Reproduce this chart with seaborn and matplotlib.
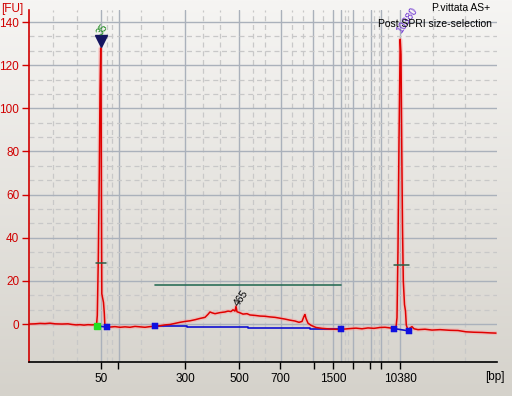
import numpy as np
import pandas as pd
import matplotlib
matplotlib.use('Agg')
import matplotlib.pyplot as plt
from matplotlib.colors import LinearSegmentedColormap
import seaborn as sns

# electropherogram trace: migration position (x) vs fluorescence [FU]
trace_pos = [29, 35, 40, 45, 50, 55, 62, 68, 72, 76, 80, 84, 88, 92, 95, 96.5,
             97.3, 98.3, 99.3, 100, 100.7, 101.1, 101.4, 101.8, 103.5, 104.3, 104.8, 106,
             110, 115, 120, 125, 130, 135, 140, 145, 150, 155,
             160, 165, 170, 175, 180, 185, 190, 195, 200, 205, 208, 210, 212, 215, 220,
             225, 228, 231, 233, 235, 236, 237, 240, 243, 247, 250, 255, 260, 265, 270,
             275, 280, 285, 290, 295, 299, 302, 304, 305, 306, 308, 311, 316, 322, 330, 339,
             345, 350, 356, 362, 368, 374, 380, 385, 390, 394, 396,
             397, 398, 399, 400.2, 401, 401.8, 402.5, 403.3, 404.5, 405.5, 406.3, 408,
             410, 412, 414, 418, 425, 432, 440, 450, 458, 466, 474, 482, 490, 496]
trace_fu = [0.0, 0.1, 0.3, 0.2, 0.4, 0.1, 0.0, 0.1, -0.2, -0.4, -0.3, -0.5, -0.3, -0.4, -0.3, -0.6,
            4, 30, 70, 108, 128, 110, 60, 14, 10, 5, 0, -1.3,
            -1.4, -1.2, -1.5, -1.3, -1.5, -1.1, -1.3, -1.5, -1.2, -1.0,
            -0.8, -0.4, -0.2, 0.3, 0.8, 1.2, 1.5, 2.0, 2.6, 3.1, 4.5, 5.6, 5.2, 4.8, 5.3,
            5.6, 6.0, 5.8, 6.6, 6.0, 8.2, 5.7, 5.2, 4.6, 4.8, 4.2, 4.0, 3.7, 3.6, 3.3,
            3.1, 2.7, 2.3, 1.8, 1.4, 0.8, 1.2, 3.6, 4.4, 2.6, 0.4, -0.6, -1.6, -2.0, -2.3, -2.5,
            -2.3, -2.1, -1.9, -2.2, -1.8, -2.0, -1.6, -1.5, -1.8, -2.0, -1.6,
            3, 35, 85, 132, 125, 80, 45, 20, 9, 6, -0.5, -2.8,
            -1.8, -1.2, -2.2, -2.6, -2.4, -2.8, -2.6, -2.9, -3.0, -3.6, -3.8, -3.9, -4.1, -4.2]

# baselines (blue) for markers and smear region
base_lower_pos = [97, 107]
base_lower_fu = [-0.9, -1.4]
base_region_pos = [155, 187, 187, 248, 248, 310, 310, 341]
base_region_fu = [-1.0, -1.0, -1.5, -1.5, -1.9, -1.9, -2.4, -2.4]
base_upper_pos = [394, 409]
base_upper_fu = [-2.1, -3.2]
blue_pts_pos = [107, 155, 341, 394, 409]
blue_pts_fu = [-1.4, -1.0, -2.4, -2.1, -3.2]
green_pt = (97, -0.9)
lower_peak = (100.7, 131)

# smear region and peak-width markers
region_pos = [155, 341]
region_fu = 18
width_lower = ([96, 106], 28.2)
width_upper = ([394, 409], 27.3)

# peak labels
peak_labels = ['35', '465', '10380']
peak_label_pos = [103, 240, 403]
peak_label_fu = [133, 7.5, 134]
peak_label_col = ['#1c8a1c', 'black', '#6a2fd0']

# x axis: ladder ticks
tick_pos = [101, 118, 185, 239, 280, 314, 333, 353, 370, 381, 400]
tick_lab = ['50', '', '300', '500', '700', '', '1500', '', '', '', '10380']
vgrid_solid = [101, 119, 185, 239, 281, 313, 333, 341, 353, 371, 381, 400]
vgrid_dash = [53, 77, 107, 112, 141, 163, 203, 220, 253, 265, 292, 303, 323, 345,
              348, 363, 374, 379, 388, 433, 465]

sns.set_style('white')
plt.rcParams['font.family'] = ['Liberation Sans', 'DejaVu Sans']

W, H = 512, 396
fig = plt.figure(figsize=(W / 100, H / 100), dpi=100)

# gray gradient background
bg = fig.add_axes([0, 0, 1, 1], zorder=-10)
grad = np.linspace(0, 1, 256).reshape(-1, 1)
cmap = LinearSegmentedColormap.from_list('bg', ['#f6f5f3', '#d5d2cb'])
bg.imshow(grad, aspect='auto', cmap=cmap, extent=[0, 1, 0, 1])
bg.axis('off')

ax = fig.add_axes([29 / W, (H - 362) / H, 468 / W, 352 / H])
ax.set_facecolor('none')
ax.set_xlim(29, 497)
ax.set_ylim(-17.6, 145.6)

for v in vgrid_dash:
    ax.axvline(v, color='#c8c8c8', lw=0.9, ls=(0, (4, 3)), zorder=0)
for v in vgrid_solid:
    ax.axvline(v, color='#aab1bb', lw=1, zorder=0)
for h in np.arange(0, 141, 20):
    ax.axhline(h, color='#aab1bb', lw=1, zorder=0)
    for k in (1, 2):
        if h + k * 20 / 3 < 145:
            ax.axhline(h + k * 20 / 3, color='#c8c8c8', lw=0.9, ls=(0, (4, 3)), zorder=0)

df = pd.DataFrame({'pos': trace_pos, 'fu': trace_fu})
# glow under the trace
ax.plot(df['pos'], df['fu'], color='#ff9a9a', lw=3.0, alpha=0.4, zorder=2)

for bp, bf in [(base_lower_pos, base_lower_fu), (base_region_pos, base_region_fu),
               (base_upper_pos, base_upper_fu)]:
    sns.lineplot(x=bp, y=bf, sort=False, estimator=None, color='#1010d0', lw=1.2,
                 ax=ax, zorder=3)

sns.lineplot(data=df, x='pos', y='fu', sort=False, estimator=None, color='#e00000',
             lw=1.1, ax=ax, zorder=4)

ax.plot(region_pos, [region_fu] * 2, color='#2c6e57', lw=1.2, zorder=3)
for xs, yv in (width_lower, width_upper):
    ax.plot(xs, [yv] * 2, color='#2c5e46', lw=1.1, zorder=5)

sns.scatterplot(x=blue_pts_pos, y=blue_pts_fu, marker='s', s=20, color='#1010e0',
                edgecolor='#1010e0', ax=ax, zorder=6)
ax.plot([green_pt[0]], [green_pt[1]], 's', ms=4.5, color='#22e022', zorder=6)
ax.plot([lower_peak[0]], [lower_peak[1]], 'v', ms=9, color='#151560', zorder=6)

for t, px, py, c in zip(peak_labels, peak_label_pos, peak_label_fu, peak_label_col):
    ax.text(px, py, t, rotation=55, color=c, fontsize=7.5, ha='left', va='bottom',
            rotation_mode='anchor', zorder=7)

sns.despine(ax=ax, top=True, right=True)
ax.spines['left'].set_color('#d00000')
ax.spines['left'].set_linewidth(1.2)
ax.spines['bottom'].set_color('black')
ax.spines['bottom'].set_linewidth(1.2)

ax.set_yticks(np.arange(0, 141, 20))
ax.tick_params(axis='y', colors='#d00000', labelsize=8.5, length=5, width=1,
               direction='out', left=True, pad=2)
ax.set_xticks(tick_pos)
ax.set_xticklabels(tick_lab)
ax.tick_params(axis='x', colors='black', labelsize=8.5, length=5, width=1, direction='out',
               bottom=True, pad=3)
ax.set_xlabel('')
ax.set_ylabel('')

fig.text(1 / W, 1 - 9 / H, '[FU]', color='#d00000', fontsize=8.5, va='center', ha='left')
fig.text(505 / W, 1 - 377 / H, '[bp]', color='black', fontsize=8.5, va='center', ha='right')
fig.text(490 / W, 1 - 8 / H, 'P.vittata AS+', color='black', fontsize=7.5, va='center', ha='right')
fig.text(492 / W, 1 - 24 / H, 'Post SPRI size-selection', color='black', fontsize=7.5,
         va='center', ha='right')

fig.savefig('out.png', dpi=100)
